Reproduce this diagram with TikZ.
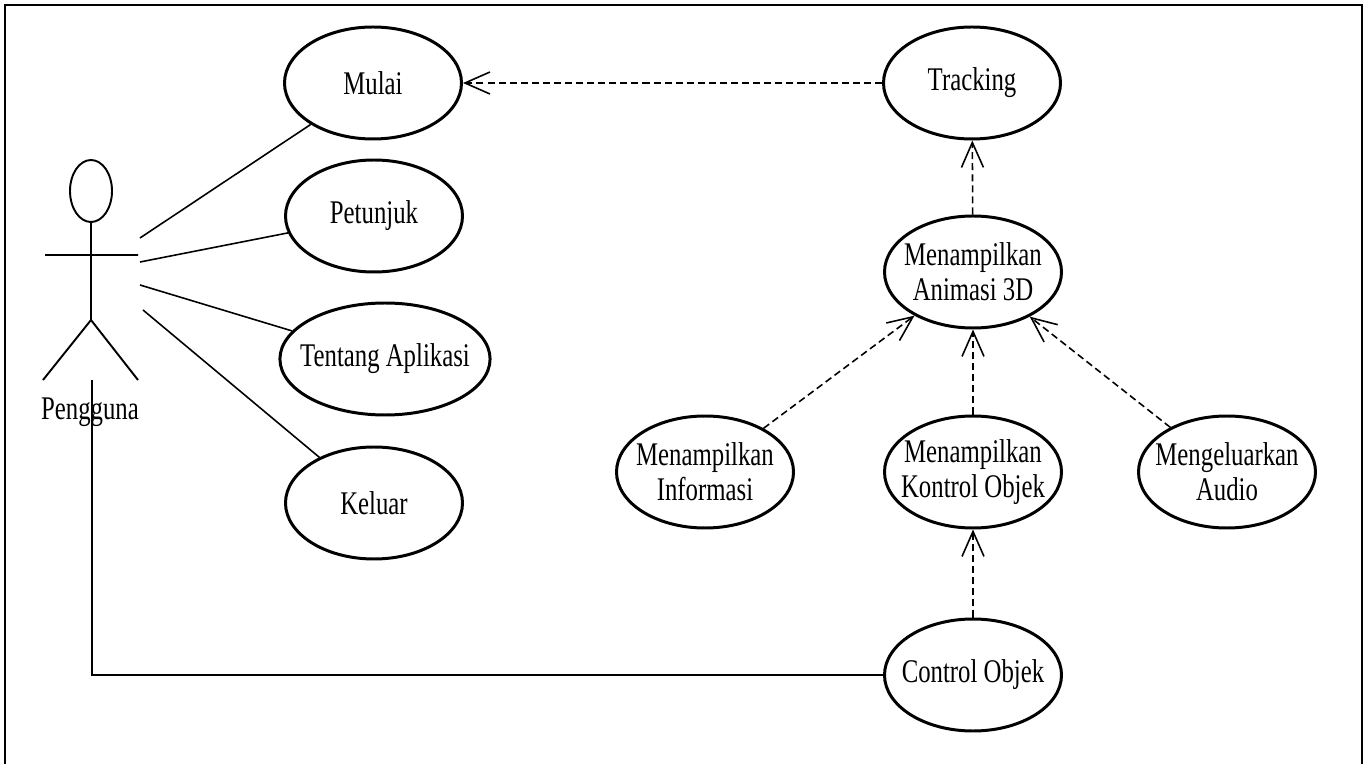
\documentclass[tikz,border=0pt]{standalone}
\usepackage{fontspec}
\setmainfont{Liberation Serif}[FakeStretch=0.75]
\usetikzlibrary{arrows.meta,shapes.geometric}

\begin{document}
\begin{tikzpicture}[
	usecase/.style={draw, ellipse, line width=1.7pt, minimum width=3.54cm, minimum height=2.24cm, inner xsep=-0.21cm, inner ysep=0pt, align=center, font=\fontsize{18.8}{20}\selectfont},
	actorline/.style={line width=1.1pt},
	assoc/.style={line width=0.9pt},
	depend/.style={line width=0.9pt, dash pattern=on 4pt off 2.3pt, -{Straight Barb[length=0.5cm,width=0.44cm]}}
	]
	\useasboundingbox (0,0) rectangle (27.34,-15.28);
	\draw[line width=1.5pt] (0.1,-15.28) -- (0.1,-0.1) -- (27.24,-0.1) -- (27.24,-15.28);
	% actor
	\node	(head) at (1.82,-3.82) [draw, ellipse, line width=1.1pt, minimum width=0.84cm, minimum height=1.24cm, inner sep=0pt] {};
	\coordinate	(hip) at (1.82,-6.4);
	\coordinate	(lhand) at (0.9,-5.1);
	\coordinate	(rhand) at (2.76,-5.1);
	\coordinate	(lfoot) at (0.86,-7.6);
	\coordinate	(rfoot) at (2.76,-7.6);
	\draw[actorline] (head.south) -- (hip) (lhand) -- (rhand) (lfoot) -- (hip) -- (rfoot);
	\node	(pengguna) at (1.8,-8.24) [font=\fontsize{18.8}{20}\selectfont] {Pengguna};
	\coordinate	(a1) at (2.8,-4.76);
	\coordinate	(a2) at (2.8,-5.24);
	\coordinate	(a3) at (2.8,-5.7);
	\coordinate	(a4) at (2.86,-6.2);
	\coordinate	(foot) at (1.84,-7.6);
	% use cases
	\node	(mulai) at (7.46,-1.66) [usecase] {Mulai};
	\node	(petunjuk) at (7.48,-4.32) [usecase] {Petunjuk};
	\node	(tentang) at (7.70,-7.18) [usecase] {Tentang Aplikasi};
	\node	(keluar) at (7.48,-10.06) [usecase] {Keluar};
	\node	(tracking) at (19.44,-1.66) [usecase] {Tracking};
	\node	(animasi) at (19.46,-5.44) [usecase] {Menampilkan\\Animasi 3D};
	\node	(informasi) at (14.10,-9.44) [usecase] {Menampilkan\\Informasi};
	\node	(kontrol) at (19.46,-9.44) [usecase] {Menampilkan\\Kontrol Objek};
	\node	(audio) at (24.54,-9.44) [usecase] {Mengeluarkan\\Audio};
	\node	(control) at (19.46,-13.5) [usecase] {Control Objek};
	\draw[assoc]
	(a1) edge (mulai)
	(a2) edge (petunjuk)
	(a3) edge (tentang)
	(a4) edge (keluar)
	(foot) |- (control)
	;
	\draw[depend]
	(tracking) edge (mulai)
	(animasi) edge (tracking)
	(informasi) edge (animasi)
	(kontrol) edge (animasi)
	(audio) edge (animasi)
	(control) edge (kontrol)
	;
\end{tikzpicture}
\end{document}
